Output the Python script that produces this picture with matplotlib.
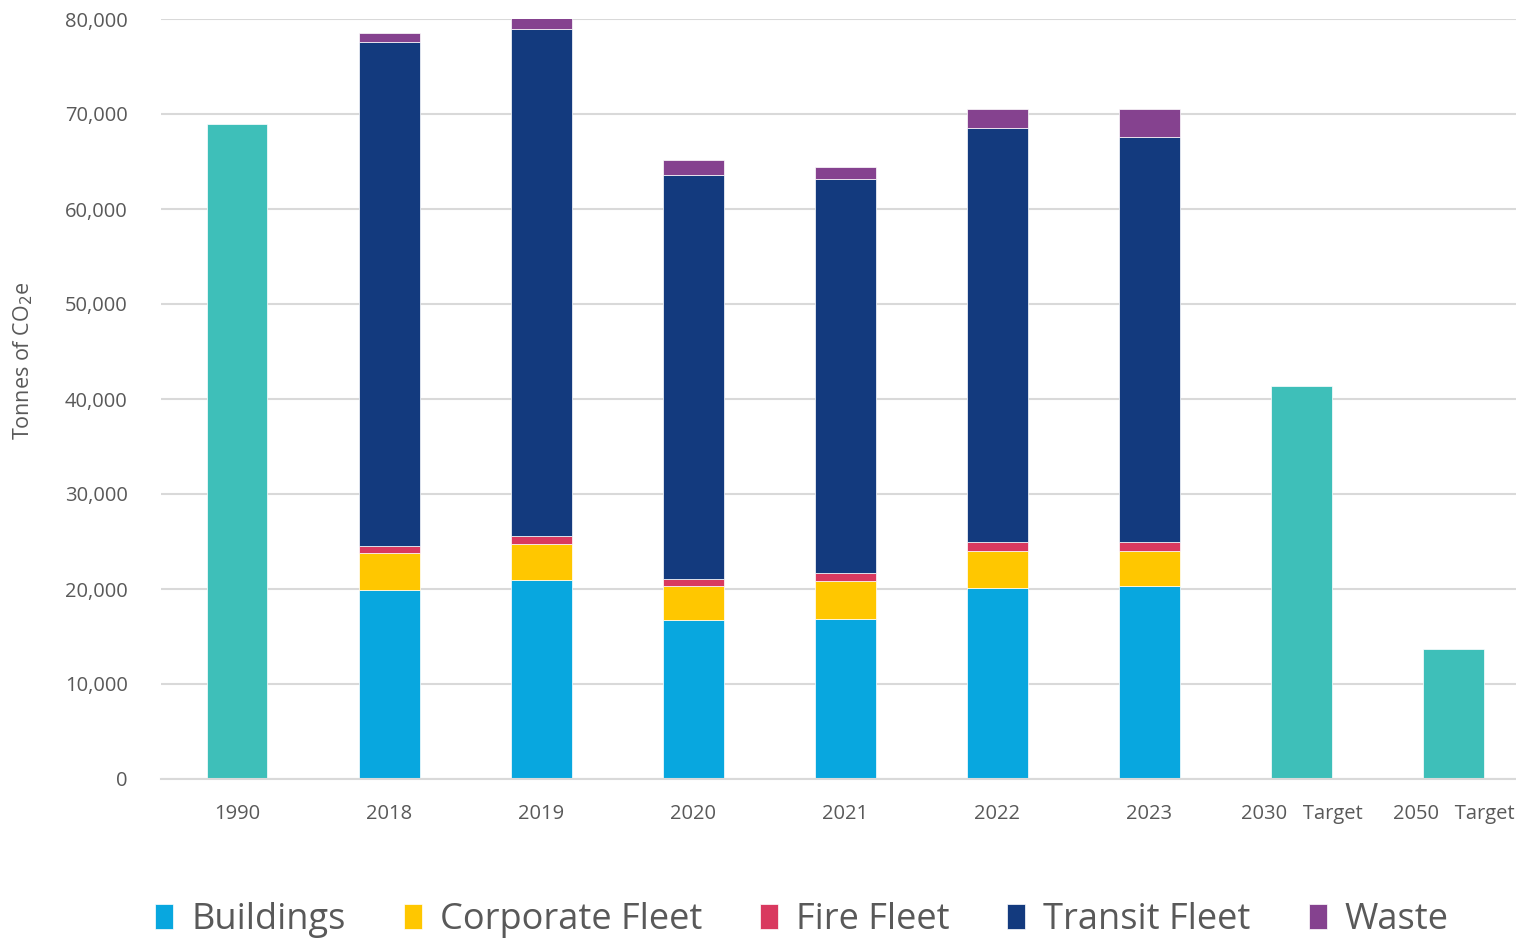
import matplotlib.pyplot as plt
import numpy as np
from matplotlib.ticker import FuncFormatter

plt.rcParams.update({
    "font.family": ["Open Sans", "DejaVu Sans"],
    "text.color": "#595959",
    "axes.labelcolor": "#595959",
    "xtick.color": "#595959",
    "ytick.color": "#595959",
})

CATEGORIES = ["1990", "2018", "2019", "2020", "2021", "2022", "2023",
              "2030   Target", "2050   Target"]

# emissions by source, tonnes CO2e (0 = no stacked bar)
BUILDINGS = [0, 19930, 20920, 16770, 16880, 20140, 20350, 0, 0]
CORPORATE_FLEET = [0, 3830, 3780, 3580, 4000, 3820, 3680, 0, 0]
FIRE_FLEET = [0, 770, 880, 700, 800, 950, 880, 0, 0]
TRANSIT_FLEET = [0, 53080, 53340, 42500, 41510, 43580, 42640, 0, 0]
WASTE = [0, 880, 1150, 1610, 1270, 2070, 3010, 0, 0]

# baseline and targets (single teal bars)
BASELINE_TARGET = [68950, 0, 0, 0, 0, 0, 0, 41370, 13680]

SERIES = [
    ("Buildings", BUILDINGS, "#08A7DF"),
    ("Corporate Fleet", CORPORATE_FLEET, "#FFC700"),
    ("Fire Fleet", FIRE_FLEET, "#D9395F"),
    ("Transit Fleet", TRANSIT_FLEET, "#133A7E"),
    ("Waste", WASTE, "#85428F"),
]

fig = plt.figure(figsize=(15.16, 9.40), dpi=100)
ax = fig.add_axes([161 / 1516, 1 - 779 / 940, 1 - 161 / 1516, (779 - 19) / 940])

x = np.arange(len(CATEGORIES))
w = 0.4

ax.bar(x, BASELINE_TARGET, width=w, color="#3EBFB9", edgecolor="white",
       linewidth=0.5, zorder=2)

bottom = np.zeros(len(CATEGORIES))
handles = []
for name, vals, col in SERIES:
    vals = np.array(vals, dtype=float)
    b = ax.bar(x, vals, width=w, bottom=bottom, color=col, edgecolor="white",
               linewidth=0.5, label=name, zorder=2)
    handles.append(b)
    bottom += vals

ax.set_xlim(-0.5, 8.41)
ax.set_ylim(0, 80000)
ax.set_yticks(np.arange(0, 80001, 10000))
ax.yaxis.set_major_formatter(FuncFormatter(lambda v, p: f"{int(v):,}"))
ax.grid(axis="y", color="#D9D9D9", linewidth=1.5, zorder=0)
ax.set_axisbelow(True)
ax.set_xticks(x)
ax.set_xticklabels(CATEGORIES)
ax.tick_params(axis="both", length=0, labelsize=14.5)
ax.tick_params(axis="x", pad=18)
ax.tick_params(axis="y", pad=24)
for s in ["top", "right", "left"]:
    ax.spines[s].set_visible(False)
ax.spines["bottom"].set_color("#D9D9D9")
ax.spines["bottom"].set_linewidth(1.5)

ax.set_ylabel("Tonnes of CO$_2$e", fontsize=15.5)
ax.yaxis.set_label_coords(-0.093, 0.55)

fig.legend(handles=handles, loc="center", bbox_to_anchor=(802 / 1516, 1 - 920 / 940),
           ncol=5, frameon=False, fontsize=26, handlelength=0.5, handleheight=0.7,
           handletextpad=0.5, columnspacing=1.6)

fig.savefig("out.png", dpi=100)
